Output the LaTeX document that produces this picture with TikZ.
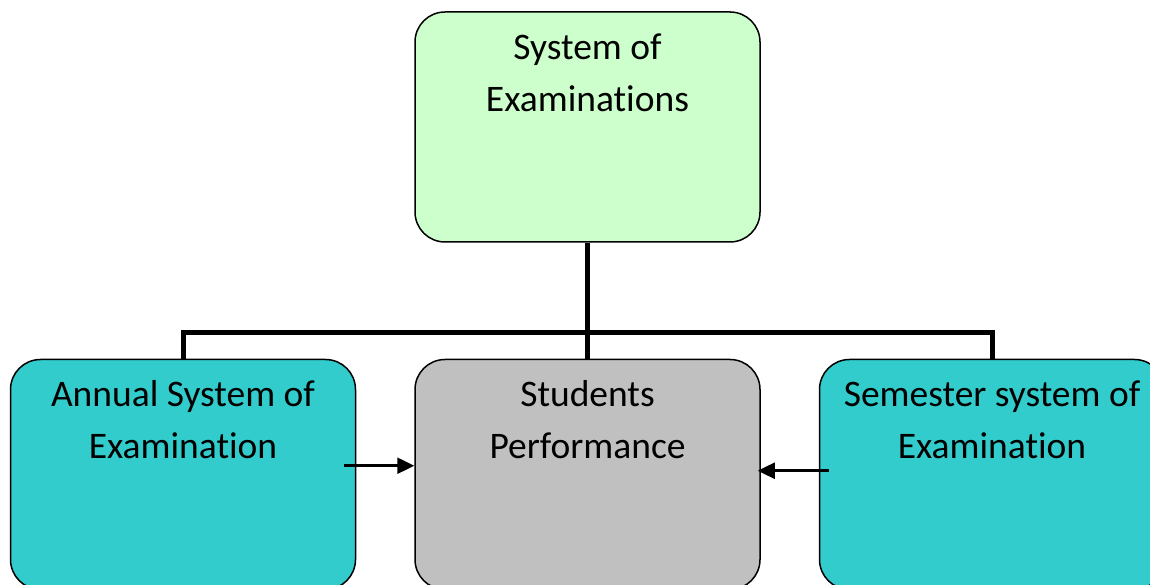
\documentclass[tikz,border=0pt]{standalone}
\usepackage{fontspec}
\setmainfont{Carlito}[Ligatures=NoCommon]
\usetikzlibrary{arrows.meta, positioning}
\definecolor{topgreen}{HTML}{CCFFCC}
\definecolor{sidecyan}{HTML}{33CCCC}
\definecolor{midgray}{HTML}{C0C0C0}
\tikzstyle{block} = [rectangle, rounded corners=30pt, minimum width=345pt, minimum height=230pt, draw=black, line width=1.5pt, inner sep=0pt]
\tikzstyle{caption} = [anchor=north, align=center, inner sep=0pt, font=\fontsize{37.5}{52}\selectfont]
\tikzstyle{link} = [line width=5pt, line join=miter]
\tikzstyle{feed} = [line width=2.5pt, -{Triangle[length=17pt,width=16pt]}]

\begin{document}
\begin{tikzpicture}[x=1pt, y=1pt, node distance=58pt]
      \clip (0,0) rectangle (1150,585);
      \fill[white] (0,0) rectangle (1150,585);

      \node (sys) [block, fill=topgreen] at (587.5,458) {};
      \node (perf) [block, fill=midgray, below=116pt of sys] {};
      \node (annual) [block, fill=sidecyan, left=of perf] {};
      \node (sem) [block, fill=sidecyan, right=of perf] {};

      \node (sysT) [caption] at ([yshift=-22pt]sys.north) {System of\\Examinations};
      \node (perfT) [caption] at ([yshift=-22pt]perf.north) {Students\\Performance};
      \node (annualT) [caption] at ([yshift=-22pt]annual.north) {Annual System of\\Examination};
      \node (semT) [caption] at ([yshift=-22pt]sem.north) {Semester system of\\Examination};

      \draw [link] (sys.south) -- (perf.north);
      \draw [link] (annual.north) -- ++(0,26) -| (sem.north);

      \coordinate (aFrom) at ([xshift=-12pt,yshift=-107pt]annual.north east);
      \coordinate (sFrom) at ([xshift=10pt,yshift=-112pt]sem.north west);
      \draw [feed] (aFrom) -- (aFrom -| perf.west);
      \draw [feed] (sFrom) -- ([xshift=-3pt]sFrom -| perf.east);
    \end{tikzpicture}
\end{document}
